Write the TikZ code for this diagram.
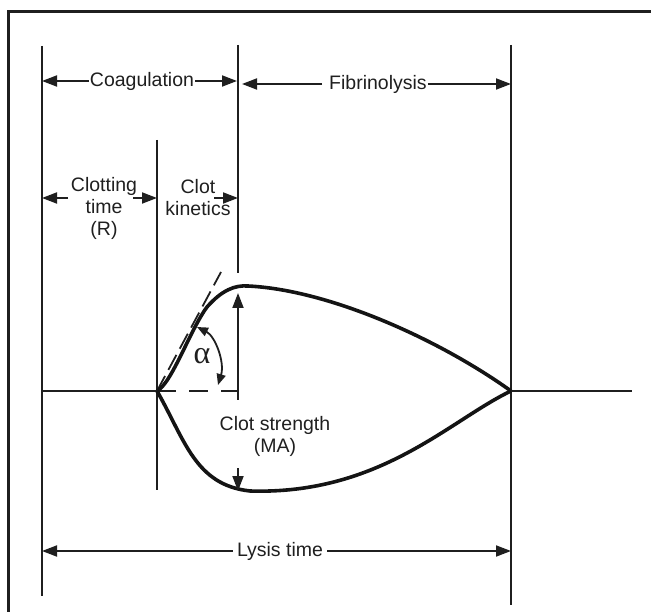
\documentclass[tikz,border=0pt]{standalone}
\usepackage{fontspec}
\setmainfont{Liberation Sans}
\newfontfamily\alphafont{Liberation Serif}
\usetikzlibrary{arrows.meta}
\begin{document}
\begin{tikzpicture}[x=1pt,y=-1pt,
  thinline/.style={line width=1.8pt, draw=black!88},
  curveline/.style={line width=3.6pt, draw=black!92},
  arr/.style={thinline,-{Triangle[length=15pt,width=11pt]}},
  smallarr/.style={thinline,{Triangle[length=11pt,width=9pt]}-{Triangle[length=11pt,width=9pt]}},
  lbl/.style={font=\fontsize{19.5}{22}\selectfont, inner sep=1pt, align=center, text=black!88},
  dashline/.style={thinline, dash pattern=on 19pt off 13pt},
]
\useasboundingbox (0,0) rectangle (651,612);
% frame
\draw[line width=3pt, draw=black!88] (8,612) -- (8,12) -- (651,12);

% coordinates
\coordinate (v1t) at (42,46);  \coordinate (v1b) at (42,596);
\coordinate (v2t) at (157,140); \coordinate (v2b) at (157,490);
\coordinate (v3t) at (238,45);  \coordinate (v3b) at (238,273);
\coordinate (v4t) at (511,45);  \coordinate (v4b) at (511,605);
\coordinate (O) at (157,391);
\coordinate (E) at (511,391);
\coordinate (B0) at (42,391);
\coordinate (B1) at (632,391);
\coordinate (D1) at (239,391);
\coordinate (T1) at (221,272);
\coordinate (P) at (248,286);

% vertical lines
\draw[thinline] (v1t) -- (v1b);
\draw[thinline] (v2t) -- (v2b);
\draw[thinline] (v3t) -- (v3b);
\draw[thinline] (v4t) -- (v4b);

% baseline
\draw[thinline] (B0) -- (O);
\draw[thinline] (E) -- (B1);
\draw[dashline] (O) -- (D1);
\draw[thinline, dash pattern=on 17pt off 7pt] (O) -- (T1);

% curves
\draw[curveline] (O) .. controls (172,383) and (190,330) .. (207,307)
   .. controls (222,290) and (235,285) .. (P)
   .. controls (330,290) and (440,340) .. (E);
\draw[curveline] (O) .. controls (185,440) and (195,485) .. (250,491)
   .. controls (380,495) and (450,420) .. (E);

% top labels
\node[lbl] (coag) at (142,81) {Coagulation};
\coordinate (coagL) at (42,81); \coordinate (coagR) at (237,81);
\draw[arr] (coag.west) -- (coagL);
\draw[arr] (coag.east) -- (coagR);

\node[lbl] (fib) at (378,84) {Fibrinolysis};
\coordinate (fibL) at (242,84); \coordinate (fibR) at (511,84);
\draw[arr] ([xshift=-6pt]fib.west) -- (fibL);
\draw[arr] (fib.east) -- (fibR);

% clotting time
\node[lbl] (ct) at (104,208) {Clotting\\time\\(R)};
\coordinate (ctL0) at (68,198); \coordinate (ctL) at (42,198);
\coordinate (ctR0) at (133,198); \coordinate (ctR) at (157,198);
\draw[arr] (ctL0) -- (ctL);
\draw[arr] (ctR0) -- (ctR);

\node[lbl] (ck) at (198,198) {Clot\\kinetics};
\coordinate (ckR0) at (214,198); \coordinate (ckR) at (238,198);
\draw[arr] (ckR0) -- (ckR);

% clot strength
\node[lbl] (cs) at (275,436) {Clot strength\\(MA)};
\coordinate (up0) at (238,400); \coordinate (up1) at (238,293);
\draw[arr] (up0) -- (up1);
\coordinate (dn0) at (238,468); \coordinate (dn1) at (238,491);
\draw[arr] (dn0) -- (dn1);

% alpha
\coordinate (a1) at (197,327); \coordinate (a2) at (218,385);
\draw[smallarr] (a1) .. controls (215,336) and (225,362) .. (a2);
\node[lbl, font=\alphafont\fontsize{32}{34}\selectfont] (alpha) at (202,356) {α};

% lysis time
\node[lbl] (lys) at (280,551) {Lysis time};
\coordinate (lysL) at (42,551); \coordinate (lysR) at (511,551);
\draw[arr] ([xshift=-3pt]lys.west) -- (lysL);
\draw[arr] ([xshift=3pt]lys.east) -- (lysR);
\end{tikzpicture}
\end{document}
